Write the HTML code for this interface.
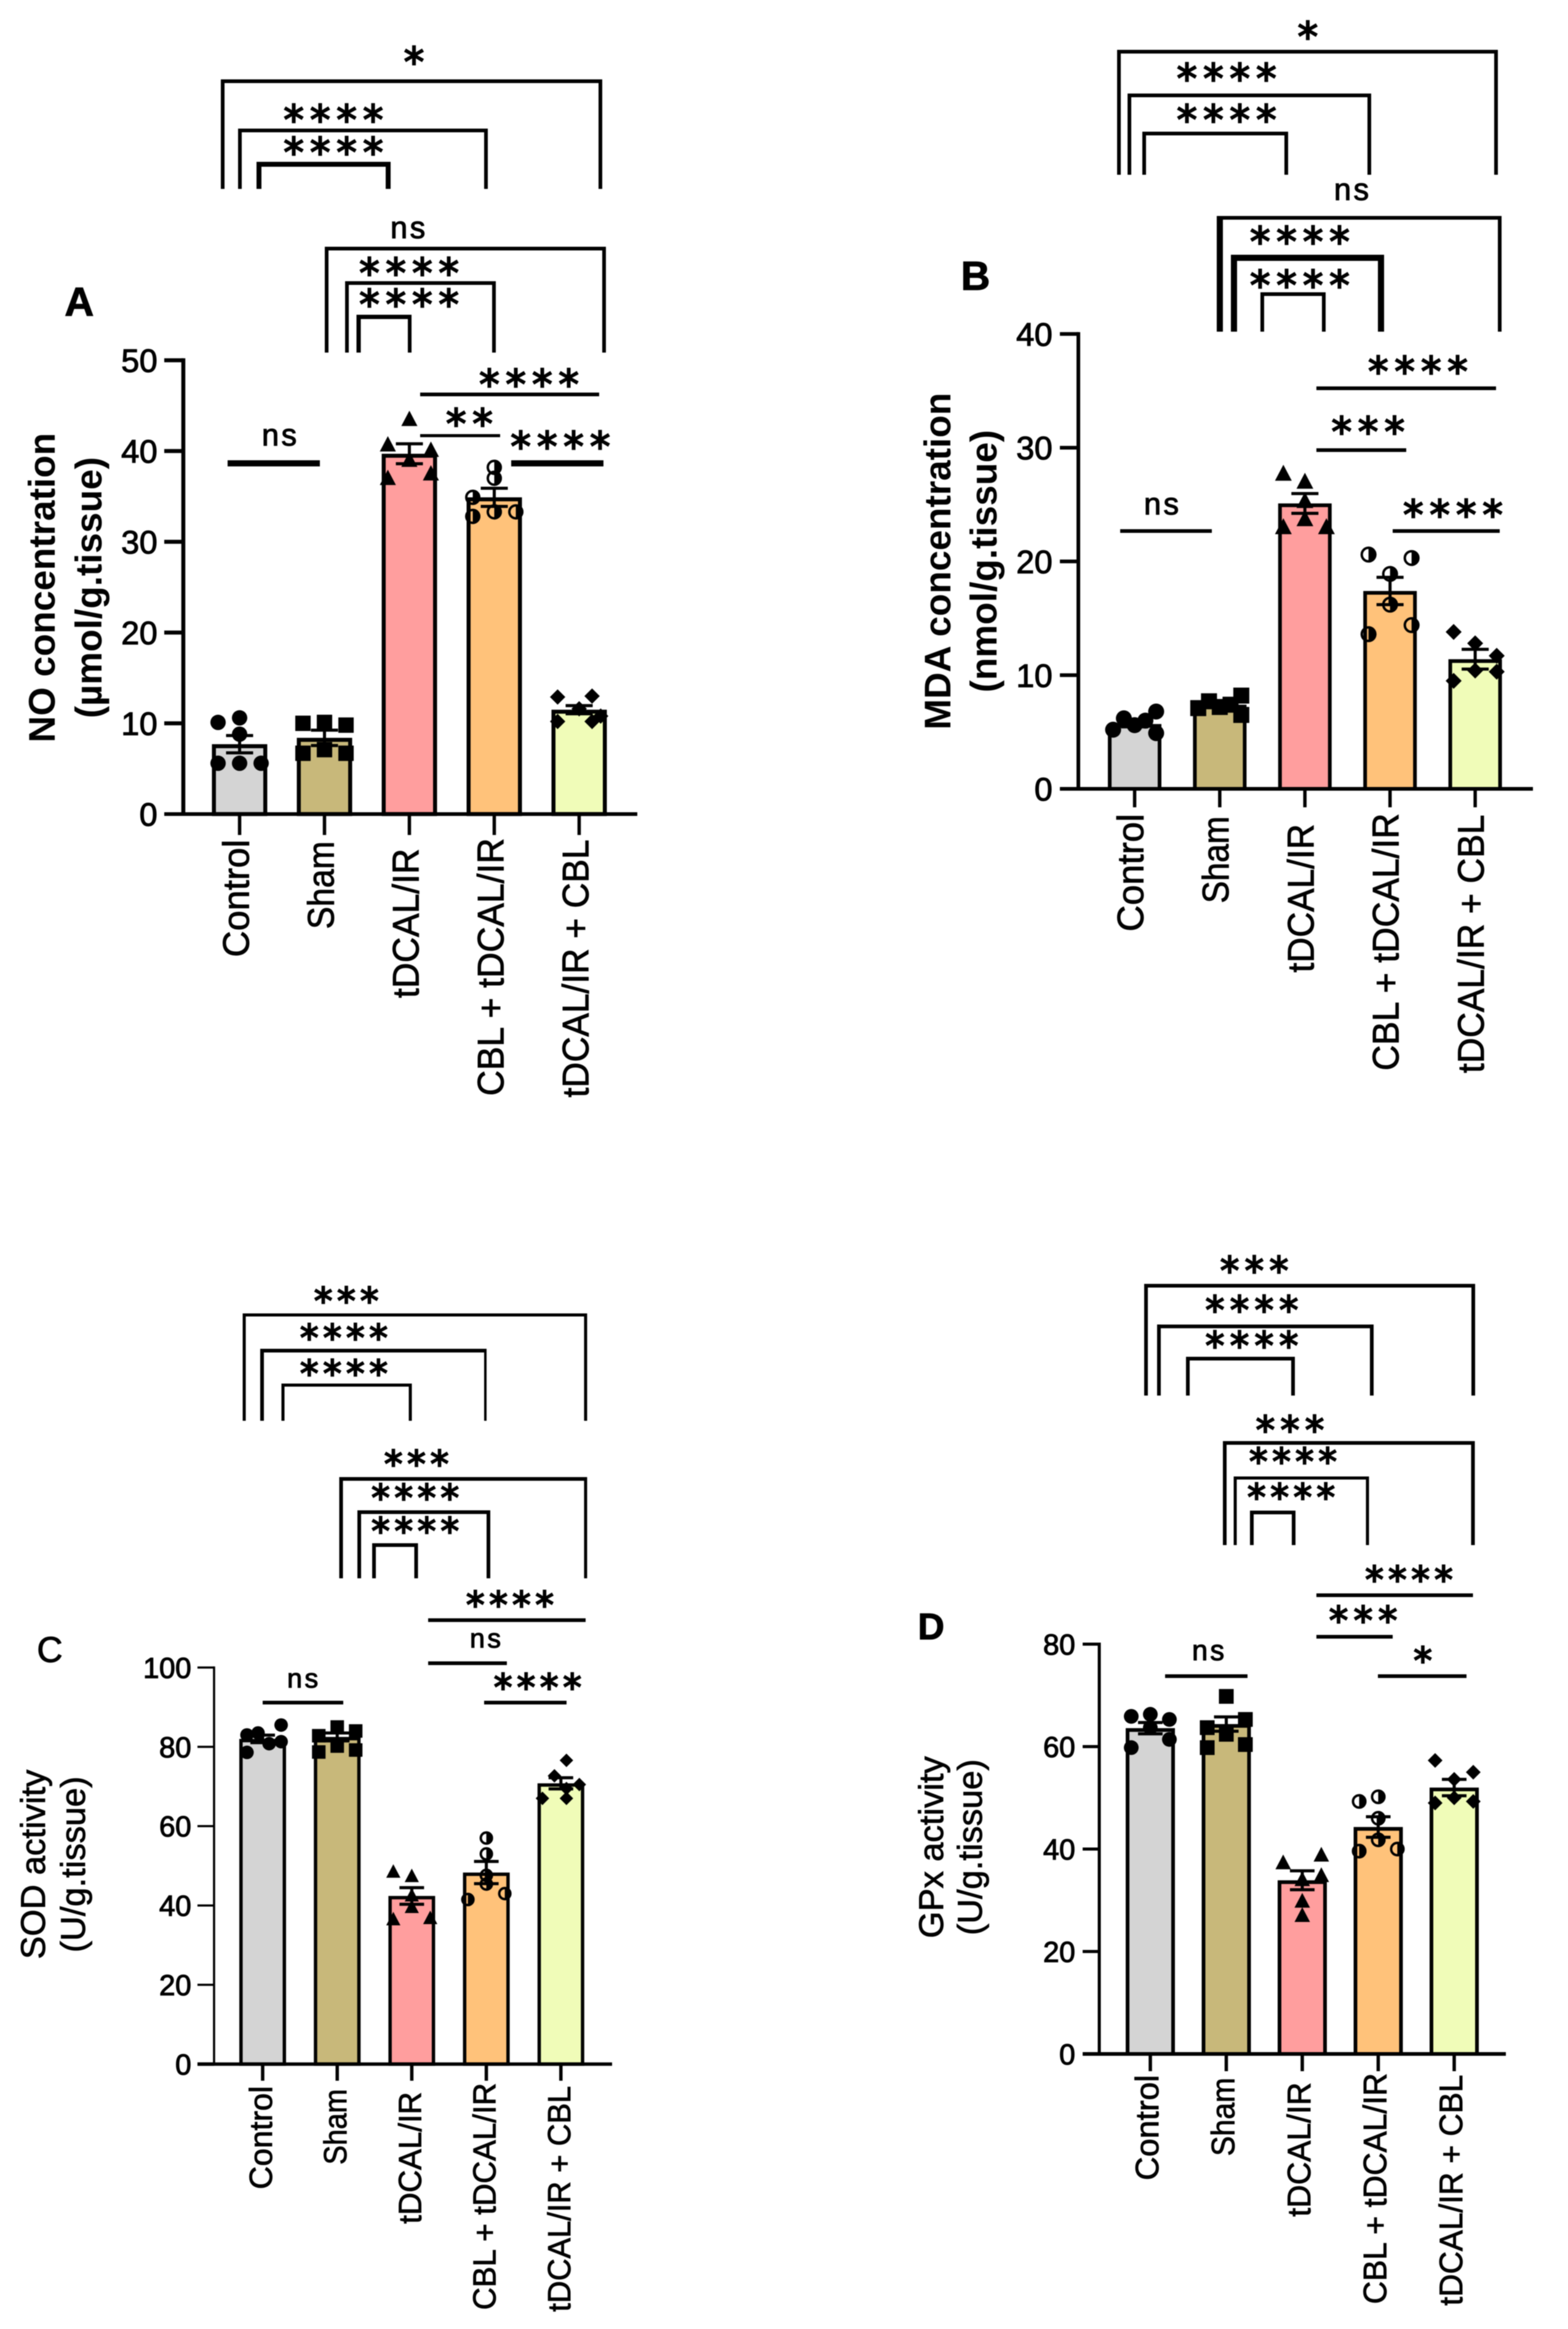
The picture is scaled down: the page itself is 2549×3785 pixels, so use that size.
<!DOCTYPE html>
<html lang="en">
<head>
<meta charset="utf-8">
<title>Oxidative stress markers: NO, MDA, SOD and GPx</title>
<style>
html,body{margin:0;padding:0;background:#fff;}
#figure{display:block;width:2549px;height:3785px;background:#fff;filter:blur(0.9px);}
text{font-family:"Liberation Sans",sans-serif;fill:#000;}
.tick{stroke:#000;stroke-width:1.3px;}
.cat{stroke:#000;stroke-width:1px;}
.ttl{font-weight:700;}
.star{font-family:"DejaVu Sans",sans-serif;stroke:#000;stroke-width:2.4px;}
.ns{stroke:#000;stroke-width:1.3px;}
.let{stroke:#000;stroke-width:1.2px;}
</style>
</head>
<body>
<svg id="figure" xmlns="http://www.w3.org/2000/svg" width="2549" height="3785" viewBox="0 0 2549 3785"></svg>
<script>
// ---------- shared data ----------
const categories = ['Control', 'Sham', 'tDCAL/IR', 'CBL + tDCAL/IR', 'tDCAL/IR + CBL'];
const barColors = ['#D4D4D4', '#C8B87A', '#FF9E9E', '#FFC27A', '#F0FCB8'];
const markerShapes = ['circle', 'square', 'triangle', 'half', 'diamond'];

// ---------- panel A: NO ----------
const noTicks = [0, 10, 20, 30, 40, 50];
const noMeans = [7.7, 8.4, 39.7, 34.9, 11.5];
const noSems = [0.95, 0.85, 1.1, 1.0, 0.45];
const noPoints = [
  [10.1, 10.6, 8.8, 5.6, 5.6, 5.6],
  [10.0, 10.1, 9.8, 6.7, 7.1, 6.7],
  [43.6, 40.8, 40.2, 39.1, 37.1, 37.6],
  [38.2, 37.0, 34.9, 33.3, 32.8, 33.3],
  [12.9, 13.0, 11.6, 10.2, 10.2, 10.8]
];
const noSwarm = [
  [-1, 0, 0, -1, 0, 1],
  [-1, 0, 1, -1, 0, 1],
  [0, -1, 1, 0, -1, 1],
  [0, 0, -1, 0, -1, 1],
  [-1, 0.6, 0, -1, 0.6, 1]
];

// ---------- panel B: MDA ----------
const mdaTicks = [0, 10, 20, 30, 40];
const mdaMeans = [5.7, 7.4, 25.1, 17.4, 11.4];
const mdaSems = [0.25, 0.25, 0.87, 1.2, 0.87];
const mdaPoints = [
  [5.2, 6.2, 5.6, 6.0, 6.8, 4.9],
  [7.1, 7.7, 7.2, 7.4, 8.2, 6.5],
  [27.8, 27.1, 25.4, 23.8, 23.1, 23.1],
  [20.6, 20.3, 18.9, 16.2, 13.6, 14.4],
  [13.8, 12.8, 11.7, 10.4, 10.3, 9.5]
];
const mdaSwarm = [
  [-1, -0.5, 0, 0.5, 1, 1],
  [-1, -0.5, 0, 0.5, 1, 1],
  [-1, 0, 0, 0, -1, 1],
  [-1, 1, 0, 0, -1, 1],
  [-1, 0, 1, 0, 1, -1]
];

// ---------- panel C: SOD ----------
const sodTicks = [0, 20, 40, 60, 80, 100];
const sodMeans = [82, 82.5, 42.4, 48.3, 70.8];
const sodSems = [0.95, 1.0, 2.1, 2.8, 1.4];
const sodPoints = [
  [85.5, 83.5, 83, 80.8, 81.3, 78.6],
  [85, 84, 82.8, 80.2, 79.2, 78.7],
  [48.7, 47.6, 42.7, 39.8, 36.7, 37],
  [57, 53, 47.6, 45.4, 41.5, 43],
  [76.6, 72.7, 70.5, 69.5, 67, 67]
];
const sodSwarm = [
  [1, -0.25, -0.85, 0.35, 1, -0.85],
  [0, 1, -1, 0, 1, -1],
  [-1, 0, 0, 0, -1, 1],
  [0, 0, 0, 0, -1, 1],
  [0.3, -0.35, 1, 0.3, -1, 0.3]
];

// ---------- panel D: GPx ----------
const gpxTicks = [0, 20, 40, 60, 80];
const gpxMeans = [63.6, 64.4, 33.9, 44.3, 52];
const gpxSems = [1.1, 1.4, 1.85, 2.0, 1.6];
const gpxPoints = [
  [65.9, 66.3, 65.3, 63.7, 59.8, 61.4],
  [69.8, 65.3, 63.7, 62.4, 59.8, 60.4],
  [37.5, 39, 34.2, 35, 30, 27.2],
  [49.3, 50.2, 46, 41.8, 39.6, 40],
  [57.3, 55, 53.6, 50, 49, 49.3]
];
const gpxSwarm = [
  [-1, 0, 1, 0, -1, 1],
  [0, 1, -1, 0, -1, 1],
  [-1, 1, 0, 1, 0, 0],
  [-1, 0, 0, 0, -1, 1],
  [-1, 1, 0, 0, -1, 1]
];

// ---------- helpers ----------
const SVG_NS = 'http://www.w3.org/2000/svg';
const root = document.getElementById('figure');

function make(tag, parent, attrs, content) {
  const el = document.createElementNS(SVG_NS, tag);
  for (const k in attrs) el.setAttribute(k, attrs[k]);
  if (content !== undefined) el.textContent = content;
  parent.appendChild(el);
  return el;
}

// w = top-rail weight, wl = left-leg weight, wr = right-leg weight
function bracket(parent, x1, x2, top, bottom, w, wr, wl) {
  const group = make('g', parent, {});
  
  
  const right = wr || w;
  const left = wl || w;
  make('path', group, { d: 'M' + (x1 - left / 2) + ' ' + top + 'H' + (x2 + right / 2), fill: 'none', stroke: '#000', 'stroke-width': w });
  make('path', group, { d: 'M' + x1 + ' ' + (top - w / 2) + 'V' + bottom, fill: 'none', stroke: '#000', 'stroke-width': left });
  make('path', group, { d: 'M' + x2 + ' ' + (top - w / 2) + 'V' + bottom, fill: 'none', stroke: '#000', 'stroke-width': right });
}

function rule(parent, x1, x2, y, w) {
  const el = make('line', parent, { x1: x1, x2: x2, y1: y, y2: y, stroke: '#000', 'stroke-width': w });
  
  
}

function stars(parent, cx, cy, label, step, fs) {
  const ls = step - 0.5 * fs;
  const el = make('text', parent, { x: cx + ls / 2, y: cy + 0.5 * fs, 'text-anchor': 'middle', 'font-size': fs, 'letter-spacing': ls, class: 'star' }, label);
  
  
}

function nsLabel(parent, cx, cy, fs) {
  const el = make('text', parent, { x: cx + 2, y: cy + 0.26 * fs, 'text-anchor': 'middle', 'font-size': fs, 'letter-spacing': 4, class: 'ns' }, 'ns');
  
  
}

function marker(parent, shape, x, y, s) {
  if (shape === 'circle') {
    const el = make('circle', parent, { cx: x, cy: y, r: s, fill: '#000' });
    
    
  } else if (shape === 'square') {
    const el = make('rect', parent, { x: x - s, y: y - s, width: 2 * s, height: 2 * s, fill: '#000' });
    
    
  } else if (shape === 'triangle') {
    const el = make('path', parent, { d: 'M' + x + ' ' + (y - s) + 'L' + (x + s * 1.05) + ' ' + (y + s) + 'H' + (x - s * 1.05) + 'Z', fill: '#000' });
    
    
  } else if (shape === 'diamond') {
    const el = make('path', parent, { d: 'M' + x + ' ' + (y - s) + 'L' + (x + s) + ' ' + y + 'L' + x + ' ' + (y + s) + 'L' + (x - s) + ' ' + y + 'Z', fill: '#000' });
    
    
  } else {
    const el = make('g', parent, {});
    
    
    make('circle', el, { cx: x, cy: y, r: s - 2, fill: 'none', stroke: '#000', 'stroke-width': 4 });
    make('path', el, { d: 'M' + x + ' ' + (y - s) + 'A' + s + ' ' + s + ' 0 0 1 ' + x + ' ' + (y + s) + 'Z', fill: '#000' });
  }
}

function drawPanel(p) {
  const panel = make('g', root, {});
  
  

  const yScale = v => p.y0 - v * p.unit;
  const xScale = i => p.c0 + i * p.step;

  // bars, points, error bars
  p.means.forEach((m, i) => {
    const cx = xScale(i);
    const top = yScale(m);
    const bar = make('rect', panel, {
      x: cx - p.barW / 2 + p.barStroke / 2, y: top + p.barStroke / 2,
      width: p.barW - p.barStroke, height: p.y0 - top - p.barStroke / 2,
      fill: barColors[i], stroke: '#000', 'stroke-width': p.barStroke
    });
    
    

    p.points[i].forEach((v, j) => {
      marker(panel, markerShapes[i], cx + p.swarm[i][j] * p.swarmW, yScale(v), p.markerSize);
    });

    const hi = yScale(m + p.sems[i]);
    const lo = yScale(m - p.sems[i]);
    const err = make('path', panel, {
      d: 'M' + (cx - p.cap) + ' ' + hi + 'H' + (cx + p.cap) + 'M' + cx + ' ' + hi + 'V' + lo + 'M' + (cx - p.cap) + ' ' + lo + 'H' + (cx + p.cap),
      fill: 'none', stroke: '#000', 'stroke-width': 5
    });
    
    
  });

  // y axis
  const topVal = p.ticks[p.ticks.length - 1];
  const yAxis = make('line', panel, { x1: p.axisX, x2: p.axisX, y1: yScale(topVal) - p.axisW / 2, y2: p.y0, stroke: '#000', 'stroke-width': p.axisW });
  
  
  p.ticks.forEach(t => {
    const y = yScale(t);
    const mark = make('line', panel, { x1: p.axisLeft, x2: p.axisX, y1: y, y2: y, stroke: '#000', 'stroke-width': t === 0 ? p.baseW : p.axisW });
    
    
    const label = make('text', panel, { x: p.axisLeft - p.tickGap, y: y + p.tickFont * 0.36, 'text-anchor': 'end', 'font-size': p.tickFont, class: 'tick' }, String(t));
    
    
  });

  // x axis
  const xAxis = make('line', panel, { x1: p.axisLeft, x2: p.axisRight, y1: p.y0, y2: p.y0, stroke: '#000', 'stroke-width': p.baseW });
  
  
  categories.forEach((c, i) => {
    const cx = xScale(i);
    const mark = make('line', panel, { x1: cx, x2: cx, y1: p.y0, y2: p.y0 + p.tickLen, stroke: '#000', 'stroke-width': 5.5 });
    
    
    const bx = cx + p.catShift;
    const ty = p.catTops[i];
    const label = make('text', panel, { x: bx, y: ty, 'text-anchor': 'end', 'font-size': p.catFont, class: 'cat', textLength: p.catLens[i], lengthAdjust: 'spacingAndGlyphs', transform: 'rotate(-90 ' + bx + ' ' + ty + ')' }, c);
    
    
  });

  // axis title (two lines)
  const t1 = make('text', panel, { x: p.title1X, y: p.titleY, 'text-anchor': 'middle', 'font-size': p.titleFont, class: p.titleBold ? 'ttl' : 'cat', transform: 'rotate(-90 ' + p.title1X + ' ' + p.titleY + ')' }, p.title1);
  
  
  const t2 = make('text', panel, { x: p.title2X, y: p.titleY, 'text-anchor': 'middle', 'font-size': p.titleFont, class: p.titleBold ? 'ttl' : 'cat', transform: 'rotate(-90 ' + p.title2X + ' ' + p.titleY + ')' }, p.title2);
  
  

  // panel letter
  const letter = make('text', panel, { x: p.letterX, y: p.letterY, 'font-size': p.letterFont, 'font-weight': p.letterWeight, class: 'let' }, p.letter);
  
  

  return panel;
}

// ---------- panel A ----------
const panelA = drawPanel({
  name: 'panel-a-no', letter: 'A', letterX: 105, letterY: 513, letterFont: 66, letterWeight: 700,
  means: noMeans, sems: noSems, points: noPoints, swarm: noSwarm, ticks: noTicks,
  y0: 1323, unit: 14.75, c0: 389.5, step: 138, barW: 90, barStroke: 6.5, axisX: 298, axisW: 6.5, baseW: 6,
  axisLeft: 267, axisRight: 1036, tickLen: 34, tickFont: 53, tickGap: 11, catFont: 60, catShift: 15,
  catTops: [1364.5, 1367, 1379, 1362, 1364.5], catLens: [191, 143, 243, 419, 419],
  swarmW: 35, markerSize: 12.5, cap: 22,
  title1: 'NO concentration', title2: '(\u00b5mol/g.tissue)', titleFont: 60, titleBold: true, title1X: 89, title2X: 165, titleY: 955
});
bracket(panelA, 362, 976, 132, 307, 6);
bracket(panelA, 390, 790, 212, 307, 6);
bracket(panelA, 421, 631, 267, 307, 8);
bracket(panelA, 531, 982, 404, 573, 6);
bracket(panelA, 564, 803, 460, 573, 6);
bracket(panelA, 583, 666, 515, 573, 7, 6);
rule(panelA, 683, 974, 641, 6);
rule(panelA, 683, 813, 708, 5);
rule(panelA, 831, 981, 753, 10);
rule(panelA, 370, 520, 753, 10);
stars(panelA, 673, 91, '*', 43, 66);
stars(panelA, 542, 185, '****', 43, 66);
stars(panelA, 542, 238, '****', 43, 66);
nsLabel(panelA, 663, 374, 50);
stars(panelA, 665, 434, '****', 43, 66);
stars(panelA, 665, 485, '****', 43, 66);
stars(panelA, 860, 615, '****', 43, 66);
stars(panelA, 763, 679, '**', 43, 66);
stars(panelA, 911, 716, '****', 43, 66);
nsLabel(panelA, 454, 711, 50);

// ---------- panel B ----------
const panelB = drawPanel({
  name: 'panel-b-mda', letter: 'B', letterX: 1562, letterY: 471, letterFont: 66, letterWeight: 700,
  means: mdaMeans, sems: mdaSems, points: mdaPoints, swarm: mdaSwarm, ticks: mdaTicks,
  y0: 1282, unit: 18.48, c0: 1844.5, step: 138.4, barW: 87, barStroke: 6, axisX: 1753, axisW: 6, baseW: 6,
  axisLeft: 1723, axisRight: 2492, tickLen: 30, tickFont: 53, tickGap: 12, catFont: 60, catShift: 14,
  catTops: [1322.5, 1326.5, 1339, 1321.5, 1324], catLens: [191.5, 141.5, 241.5, 418.5, 420],
  swarmW: 35, markerSize: 13, cap: 22,
  title1: 'MDA concentration', title2: '(nmol/g.tissue)', titleFont: 60, titleBold: true, title1X: 1545, title2X: 1620, titleY: 912
});
bracket(panelB, 1819, 2432, 84, 284, 6);
bracket(panelB, 1836, 2226, 155, 284, 6);
bracket(panelB, 1860, 2091, 217, 284, 6);
bracket(panelB, 1983, 2438, 354, 539, 6, 6, 10);
bracket(panelB, 2006, 2245, 419, 539, 10);
bracket(panelB, 2052, 2152, 478, 539, 6);
rule(panelB, 2140, 2432, 631, 6);
rule(panelB, 2140, 2286, 731.5, 6);
rule(panelB, 2264, 2438, 863, 6);
rule(panelB, 1821, 1970, 863, 6);
stars(panelB, 2126, 50, '*', 43, 66);
stars(panelB, 1994, 118, '****', 43, 66);
stars(panelB, 1994, 185, '****', 43, 66);
nsLabel(panelB, 2197, 312, 50);
stars(panelB, 2113, 383, '****', 43, 66);
stars(panelB, 2113, 454, '****', 43, 66);
stars(panelB, 2305, 594, '****', 43, 66);
stars(panelB, 2224, 692, '***', 43, 66);
stars(panelB, 2362, 827, '****', 43, 66);
nsLabel(panelB, 1888, 823, 50);

// ---------- panel C ----------
const panelC = drawPanel({
  name: 'panel-c-sod', letter: 'C', letterX: 60, letterY: 2701, letterFont: 58, letterWeight: 400,
  means: sodMeans, sems: sodSems, points: sodPoints, swarm: sodSwarm, ticks: sodTicks,
  y0: 3354.5, unit: 6.445, c0: 427, step: 121.2, barW: 76, barStroke: 5.5, axisX: 348, axisW: 3.5, baseW: 5.5,
  axisLeft: 321, axisRight: 995, tickLen: 27, tickFont: 47, tickGap: 10, catFont: 52, catShift: 15,
  catTops: [3390, 3395, 3399.5, 3385, 3390], catLens: [168, 123, 214.5, 369, 367],
  swarmW: 30, markerSize: 11, cap: 20,
  title1: 'SOD activity', title2: '(U/g.tissue)', titleFont: 56, titleBold: false, title1X: 73, title2X: 138, titleY: 3030
});
bracket(panelC, 397, 952, 2137, 2309, 5);
bracket(panelC, 426, 789, 2195, 2309, 6, 4);
bracket(panelC, 460, 667, 2251, 2309, 5);
bracket(panelC, 554.5, 952, 2403.5, 2565, 6, 5);
bracket(panelC, 584, 794, 2457.5, 2565, 6);
bracket(panelC, 608, 676.5, 2511, 2565, 6);
rule(panelC, 696, 952, 2633, 6);
rule(panelC, 696, 824, 2703, 6);
rule(panelC, 787, 921, 2767, 6);
rule(panelC, 427, 558, 2767, 6);
stars(panelC, 563, 2105, '***', 37.5, 60);
stars(panelC, 559, 2165, '****', 37.5, 60);
stars(panelC, 559, 2223, '****', 37.5, 60);
stars(panelC, 677, 2370, '***', 37.5, 60);
stars(panelC, 675, 2425, '****', 37.5, 60);
stars(panelC, 675, 2479, '****', 37.5, 60);
stars(panelC, 829, 2599, '****', 37.5, 60);
nsLabel(panelC, 789, 2666, 44);
stars(panelC, 874, 2733, '****', 37.5, 60);
nsLabel(panelC, 492, 2731, 44);

// ---------- panel D ----------
const panelD = drawPanel({
  name: 'panel-d-gpx', letter: 'D', letterX: 1492, letterY: 2664, letterFont: 60, letterWeight: 700,
  means: gpxMeans, sems: gpxSems, points: gpxPoints, swarm: gpxSwarm, ticks: gpxTicks,
  y0: 3338, unit: 8.325, c0: 1870, step: 123.5, barW: 80, barStroke: 6, axisX: 1787, axisW: 5, baseW: 6,
  axisLeft: 1760, axisRight: 2448, tickLen: 28, tickFont: 47, tickGap: 12, catFont: 53, catShift: 13,
  catTops: [3372, 3376.5, 3384, 3369, 3372], catLens: [171.5, 127.5, 218.5, 375.5, 375],
  swarmW: 31, markerSize: 12, cap: 20,
  title1: 'GPx activity', title2: '(U/g.tissue)', titleFont: 56, titleBold: false, title1X: 1533, title2X: 1596, titleY: 3002
});
bracket(panelD, 1863, 2395, 2089.5, 2268, 6);
bracket(panelD, 1884, 2230, 2155.6, 2268, 6);
bracket(panelD, 1931, 2102, 2208, 2268, 6);
bracket(panelD, 1991, 2394.5, 2345, 2511, 6);
bracket(panelD, 2008, 2223, 2402, 2511, 5);
bracket(panelD, 2035, 2103, 2458, 2511, 6);
rule(panelD, 2140, 2394.5, 2592.5, 6);
rule(panelD, 2140, 2264, 2660, 6);
rule(panelD, 2240, 2384, 2724, 6);
rule(panelD, 1894, 2028, 2724, 6);
stars(panelD, 2039, 2056, '***', 40, 62);
stars(panelD, 2035, 2120, '****', 40, 62);
stars(panelD, 2035, 2178, '****', 40, 62);
stars(panelD, 2097, 2315, '***', 40, 62);
stars(panelD, 2102, 2366, '****', 37.5, 60);
stars(panelD, 2099, 2424, '****', 37.5, 60);
stars(panelD, 2290.5, 2558, '****', 37.5, 60);
stars(panelD, 2216, 2624.5, '***', 40, 62);
stars(panelD, 2313, 2689.5, '*', 40, 60);
nsLabel(panelD, 1964, 2686, 46);
</script>
</body>
</html>
